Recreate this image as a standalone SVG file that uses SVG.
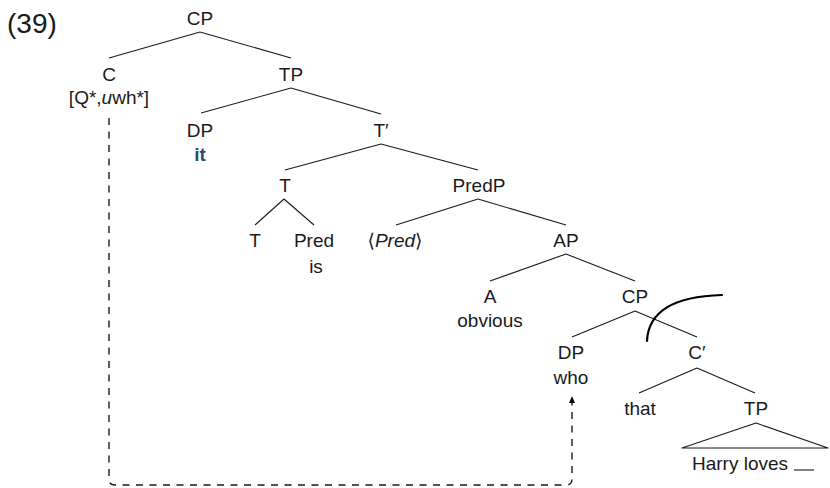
<svg xmlns="http://www.w3.org/2000/svg" width="830" height="488" viewBox="0 0 830 488">
  <style>
    text { font-family: "Liberation Sans", "DejaVu Sans", sans-serif; font-size: 19px; fill: #1a1a1a; text-anchor: middle; }
    .num { font-size: 28px; text-anchor: start; }
    .it { font-style: italic; }
    .hl { font-weight: bold; fill: #2f4b6c; }
    .edge { stroke: #1a1a1a; stroke-width: 1.1; fill: none; }
    .move { stroke: #1a1a1a; stroke-width: 1.4; fill: none; stroke-dasharray: 7 6.5; }
    .cut { stroke: #000; stroke-width: 2.2; fill: none; stroke-linecap: round; }
  </style>
  <defs>
    <marker id="arrow" viewBox="0 0 10 10" refX="9" refY="5" markerWidth="7" markerHeight="7" orient="auto" markerUnits="userSpaceOnUse">
      <path d="M0,0.5 L10,5 L0,9.5 Z" fill="#000"/>
    </marker>
  </defs>

  <text class="num" x="7" y="33">(39)</text>

  <!-- tree branches -->
  <g id="connectors">
    <line class="edge" x1="200" y1="32" x2="109" y2="58"/>
    <line class="edge" x1="200" y1="32" x2="291" y2="58"/>
    <line class="edge" x1="291" y1="88" x2="201" y2="113"/>
    <line class="edge" x1="291" y1="88" x2="381" y2="114"/>
    <line class="edge" x1="381" y1="144" x2="285" y2="170"/>
    <line class="edge" x1="381" y1="144" x2="478" y2="170"/>
    <line class="edge" x1="284" y1="199" x2="255" y2="225"/>
    <line class="edge" x1="284" y1="199" x2="314" y2="225"/>
    <line class="edge" x1="478" y1="199" x2="396" y2="225"/>
    <line class="edge" x1="478" y1="199" x2="566" y2="225"/>
    <line class="edge" x1="566" y1="254" x2="490" y2="281"/>
    <line class="edge" x1="566" y1="254" x2="635" y2="281"/>
    <line class="edge" x1="635" y1="311" x2="572" y2="337"/>
    <line class="edge" x1="635" y1="311" x2="697" y2="337"/>
    <line class="edge" x1="697" y1="368" x2="639" y2="393"/>
    <line class="edge" x1="697" y1="368" x2="755" y2="393"/>
    <!-- TP roof -->
    <path class="edge" d="M756,423 L682,448 L828,448 Z" stroke-linejoin="round"/>
    <!-- movement path from C down and over to who -->
    <path class="move" d="M109,118 V479 Q109,485 115,485 H566 Q572,485 572,479 V397" marker-end="url(#arrow)"/>
    <!-- boundary arc -->
    <path class="cut" d="M647,341 Q649,297 722,295"/>
  </g>

  <g id="cp-root"><text x="200" y="25">CP</text></g>
  <g id="c-head"><text x="109" y="81">C</text><text x="109" y="104">[Q*,<tspan class="it">u</tspan>wh*]</text></g>
  <g id="tp"><text x="291" y="81">TP</text></g>
  <g id="dp-it"><text x="200" y="137">DP</text><text class="hl" x="200" y="161">it</text></g>
  <g id="t-bar"><text x="381" y="137">T′</text></g>
  <g id="t"><text x="285" y="192">T</text></g>
  <g id="predp"><text x="479" y="192">PredP</text></g>
  <g id="t-leaf"><text x="255" y="247">T</text></g>
  <g id="pred-is"><text x="314" y="247">Pred</text><text x="316" y="273">is</text></g>
  <g id="pred-trace"><text x="395" y="247">⟨<tspan class="it">Pred</tspan>⟩</text></g>
  <g id="ap"><text x="566" y="247">AP</text></g>
  <g id="a-obvious"><text x="490" y="303">A</text><text x="490" y="327">obvious</text></g>
  <g id="cp-lower"><text x="635" y="303">CP</text></g>
  <g id="dp-who"><text x="571" y="359">DP</text><text x="571" y="384">who</text></g>
  <g id="c-bar"><text x="697" y="359">C′</text></g>
  <g id="that"><text x="640" y="415">that</text></g>
  <g id="tp-lower"><text x="756" y="415">TP</text></g>
  <g id="tp-content">
    <text x="692" y="470" style="text-anchor:start">Harry loves</text>
    <line class="edge" x1="794" y1="470" x2="814" y2="470" stroke-width="1.4"/>
  </g>
</svg>
